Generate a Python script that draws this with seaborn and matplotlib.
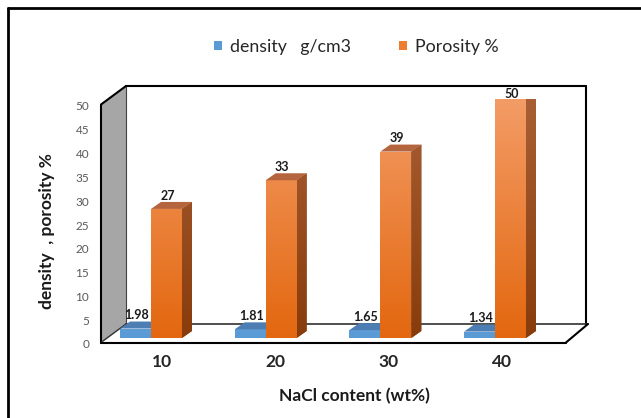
import numpy as np
import pandas as pd
import matplotlib
matplotlib.use("Agg")
import matplotlib.pyplot as plt
import seaborn as sns
from matplotlib.patches import Polygon, Patch
from matplotlib.lines import Line2D
from matplotlib.colors import LinearSegmentedColormap

# ---- data ----
nacl = ["10", "20", "30", "40"]
density = [1.98, 1.81, 1.65, 1.34]
porosity = [27, 33, 39, 50]
series_names = ["density   g/cm3", "Porosity %"]
y_ticks = list(range(0, 55, 5))

W, H = 641, 418
BLUE = "#5B9BD5"
ORANGE = "#ED7D31"

sns.set_theme(style="white")
plt.rcParams["font.family"] = ["Lato", "DejaVu Sans"]

df = pd.DataFrame({
    "NaCl": nacl * 2,
    "value": density + porosity,
    "series": [series_names[0]] * len(nacl) + [series_names[1]] * len(nacl),
})

fig = plt.figure(figsize=(W / 100, H / 100), dpi=100)


def box(x0, y0, x1, y1):
    """Pixel box (origin top-left) -> figure-fraction rect."""
    return [x0 / W, 1 - y1 / H, (x1 - x0) / W, (y1 - y0) / H]


def P(x, y):
    return (x / W, 1 - y / H)


def fig_line(p0, p1, lw=1.5, color="black", z=-1):
    fig.add_artist(Line2D([p0[0] / W, p1[0] / W], [1 - p0[1] / H, 1 - p1[1] / H],
                          transform=fig.transFigure, color=color, lw=lw,
                          solid_capstyle="round", zorder=z))


# ---- chart frame ----
fig_line((8, 8), (641, 8), lw=2.0)
fig_line((8, 8), (8, 418), lw=2.0)

# ---- 3-D walls: side wall, back wall, floor ----
fig.add_artist(Polygon([P(101, 104.5), P(126, 86), P(126, 324), P(101, 342.5)],
                       closed=True, fc="#A6A6A6", ec="none",
                       transform=fig.transFigure, zorder=-3))
fig_line((126, 86), (126, 324), lw=0.8, color="#404040")
fig_line((101, 104.5), (101, 342.5), lw=1.5)
fig_line((101, 104.5), (126, 86), lw=1.5)
fig_line((126, 86), (586, 86), lw=1.5)
fig_line((586, 86), (586, 324), lw=1.5)
fig_line((126, 324), (588, 324), lw=1.2, color="#303030")
fig_line((101, 342.5), (126, 324), lw=1.0, color="#303030")
fig_line((101, 342.5), (566, 342.5), lw=1.5)
fig_line((566, 342.5), (588, 324), lw=1.5)

# ---- front plane axes: carries the tick labels ----
axf = fig.add_axes(box(101, 106, 566, 344))
axf.patch.set_alpha(0)
for s in axf.spines.values():
    s.set_visible(False)
axf.set_xlim(-0.538, 3.565)
axf.set_ylim(0, 50)
axf.set_yticks(y_ticks)
axf.set_yticklabels([str(t) for t in y_ticks])
axf.set_xticks(range(len(nacl)))
axf.set_xticklabels(nacl)
axf.tick_params(axis="y", length=0, pad=8.5, labelsize=8.5, labelcolor="#595959")
axf.tick_params(axis="x", length=0, pad=7, labelsize=12.5, labelcolor="#262626")
for lab in axf.get_xticklabels():
    lab.set_fontweight("bold")

# ---- bar plane axes ----
ax = fig.add_axes(box(108, 99, 573, 338))
ax.patch.set_alpha(0)
sns.barplot(data=df, x="NaCl", y="value", hue="series",
            palette=[BLUE, ORANGE], width=0.54, saturation=1,
            linewidth=0, legend=False, ax=ax)

XLIM = (-0.375, 3.680)
YLIM = (0, 50)
DX = 10 / 114.67          # bar depth, horizontal (data units)
DY = 7 / 4.78             # bar depth, vertical (data units)

orange_front = LinearSegmentedColormap.from_list("of", ["#E3670F", "#F39C66"])
orange_side = LinearSegmentedColormap.from_list("os", ["#883C0C", "#AA6036"])
blue_front = LinearSegmentedColormap.from_list("bf", ["#5B9BD5", "#8FC0EA"])
blue_side = LinearSegmentedColormap.from_list("bs", ["#3F72A8", "#6A9ACB"])
grad = np.linspace(0, 1, 256).reshape(-1, 1)

styles = [
    dict(front=blue_front, side=blue_side, top="#4C7DB3", z=2),
    dict(front=orange_front, side=orange_side, top="#B5653D", z=3),
]

for container, st in zip(ax.containers, styles):
    for bar in container:
        x0 = bar.get_x()
        w = bar.get_width()
        h = bar.get_height()
        x1 = x0 + w
        z = st["z"]
        bar.set_zorder(z)
        # front face gradient, clipped to the bar
        im = ax.imshow(grad, cmap=st["front"], origin="lower", aspect="auto",
                       extent=[x0, x1, 0, 50], vmin=0, vmax=1,
                       interpolation="bilinear", zorder=z + 0.01)
        im.set_clip_path(bar)
        # right side face
        side = Polygon([(x1, 0), (x1 + DX, DY), (x1 + DX, h + DY), (x1, h)],
                       closed=True, fc=st["side"](0.0), ec="none", zorder=z - 0.05)
        ax.add_patch(side)
        ims = ax.imshow(grad, cmap=st["side"], origin="lower", aspect="auto",
                        extent=[x1, x1 + DX, 0, 50 + DY], vmin=0, vmax=1,
                        interpolation="bilinear", zorder=z - 0.04)
        ims.set_clip_path(side)
        # top face
        ax.add_patch(Polygon([(x0, h), (x1, h), (x1 + DX, h + DY), (x0 + DX, h + DY)],
                             closed=True, fc=st["top"], ec="none", zorder=z + 0.02))
        # value label
        ax.text(x0 + w / 2 + 0.01, min(h + 2.8, 51.0), f"{h:g}",
                ha="center", va="center", fontsize=9, fontweight="bold",
                color="#1a1a1a", zorder=10)

ax.set_xlim(*XLIM)
ax.set_ylim(*YLIM)
ax.set_axis_off()

# ---- axis titles ----
fig.text(*P(354, 396), "NaCl content (wt%)", ha="center", va="center",
         fontsize=12.5, fontweight="bold", color="#1a1a1a")
fig.text(*P(47, 231), "density  , porosity %", ha="center", va="center",
         rotation=90, fontsize=12.5, fontweight="bold", color="#1a1a1a")

# ---- legend ----
handles = [Patch(facecolor=BLUE, edgecolor="none"),
           Patch(facecolor=ORANGE, edgecolor="none")]
fig.legend(handles, series_names, loc="center", bbox_to_anchor=P(356, 47),
           ncol=2, frameon=False, fontsize=12.8, handlelength=0.45,
           handleheight=0.45, handletextpad=0.45, columnspacing=2.7,
           labelcolor="#262626")

fig.savefig("out.png", dpi=100, facecolor="white")
